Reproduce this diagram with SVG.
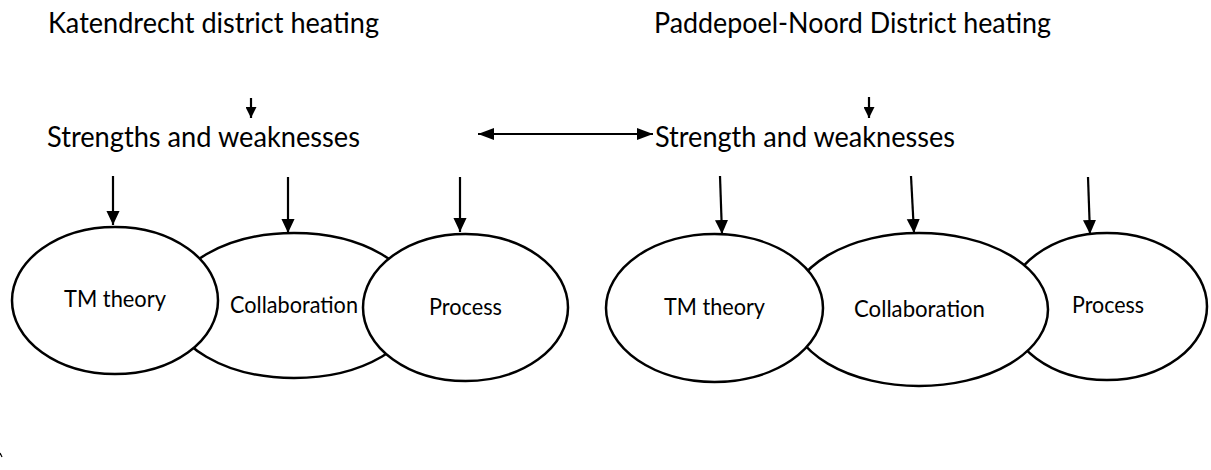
<svg xmlns="http://www.w3.org/2000/svg" width="1211" height="470" viewBox="0 0 1211 470">
  <style>
    .bg { fill: #ffffff; }
    .ell { fill: #ffffff; stroke: #000000; stroke-width: 2.5; }
    .lbl { font-family: Lato, "Open Sans", "Liberation Sans", sans-serif; font-size: 23px; fill: #000000; }
    .head { font-family: Lato, "Open Sans", "Liberation Sans", sans-serif; font-size: 28px; fill: #000000; }
    .con { fill: none; stroke: #000000; stroke-width: 2.2; }
  </style>
  <defs>
    <marker id="tip" markerUnits="userSpaceOnUse" markerWidth="14" markerHeight="14" refX="15" refY="7" orient="auto" viewBox="0 0 15 14">
      <path d="M0,0 L15,7 L0,14 z" fill="#000000"/>
    </marker>
    <marker id="tipSmall" markerUnits="userSpaceOnUse" markerWidth="11" markerHeight="11" refX="11" refY="5.5" orient="auto" viewBox="0 0 11 11">
      <path d="M0,0 L11,5.5 L0,11 z" fill="#000000"/>
    </marker>
    <marker id="tipSide" markerUnits="userSpaceOnUse" markerWidth="16" markerHeight="12" refX="16" refY="6" orient="auto-start-reverse" viewBox="0 0 16 12">
      <path d="M0,0 L16,6 L0,12 z" fill="#000000"/>
    </marker>
  </defs>

  <rect class="bg" x="0" y="0" width="1211" height="470"/>

  <!-- titles -->
  <g id="title-katendrecht">
    <text class="head" x="48" y="33" textLength="331" lengthAdjust="spacingAndGlyphs">Katendrecht district heating</text>
  </g>
  <g id="title-paddepoel">
    <text class="head" x="654" y="33" textLength="397" lengthAdjust="spacingAndGlyphs">Paddepoel-Noord District heating</text>
  </g>
  <g id="sw-left">
    <text class="head" x="47" y="147" textLength="313" lengthAdjust="spacingAndGlyphs">Strengths and weaknesses</text>
  </g>
  <g id="sw-right">
    <text class="head" x="655" y="147" textLength="300" lengthAdjust="spacingAndGlyphs">Strength and weaknesses</text>
  </g>

  <!-- left cluster: collaboration sits underneath its neighbours -->
  <g id="left-collaboration">
    <ellipse class="ell" cx="294" cy="305.5" rx="124" ry="72.5"/>
    <text class="lbl" x="230" y="313" textLength="128" lengthAdjust="spacingAndGlyphs">Collaboration</text>
  </g>
  <g id="left-tm-theory">
    <ellipse class="ell" cx="115" cy="300.5" rx="103" ry="73.5"/>
    <text class="lbl" x="64" y="307" textLength="102" lengthAdjust="spacingAndGlyphs">TM theory</text>
  </g>
  <g id="left-process">
    <ellipse class="ell" cx="465.5" cy="307.5" rx="102.5" ry="73.5"/>
    <text class="lbl" x="429" y="315" textLength="73" lengthAdjust="spacingAndGlyphs">Process</text>
  </g>

  <!-- right cluster: process at the back, TM theory in front -->
  <g id="right-process">
    <ellipse class="ell" cx="1107" cy="306.5" rx="100" ry="73.5"/>
    <text class="lbl" x="1072" y="313" textLength="72" lengthAdjust="spacingAndGlyphs">Process</text>
  </g>
  <g id="right-collaboration">
    <ellipse class="ell" cx="919" cy="309.5" rx="129" ry="76.5"/>
    <text class="lbl" x="854" y="317" textLength="131" lengthAdjust="spacingAndGlyphs">Collaboration</text>
  </g>
  <g id="right-tm-theory">
    <ellipse class="ell" cx="714.5" cy="308" rx="108.5" ry="74"/>
    <text class="lbl" x="664" y="315" textLength="101" lengthAdjust="spacingAndGlyphs">TM theory</text>
  </g>

  <!-- connectors -->
  <g id="connectors">
    <line class="con" x1="251" y1="98" x2="251" y2="118" marker-end="url(#tipSmall)"/>
    <line class="con" x1="869" y1="97" x2="869" y2="118" marker-end="url(#tipSmall)"/>
    <line class="con" x1="478" y1="134" x2="653" y2="134" marker-start="url(#tipSide)" marker-end="url(#tipSide)"/>
    <line class="con" x1="113" y1="176" x2="113" y2="225" marker-end="url(#tip)"/>
    <line class="con" x1="288" y1="177" x2="288" y2="233" marker-end="url(#tip)"/>
    <line class="con" x1="460" y1="177" x2="460" y2="232" marker-end="url(#tip)"/>
    <line class="con" x1="720" y1="176" x2="722" y2="234" marker-end="url(#tip)"/>
    <line class="con" x1="911" y1="176" x2="914" y2="233" marker-end="url(#tip)"/>
    <line class="con" x1="1088" y1="177" x2="1090" y2="234" marker-end="url(#tip)"/>
  </g>

  <!-- small stray tick near the lower left edge -->
  <line x1="0" y1="453" x2="2" y2="457" stroke="#000000" stroke-width="1.2"/>
</svg>
